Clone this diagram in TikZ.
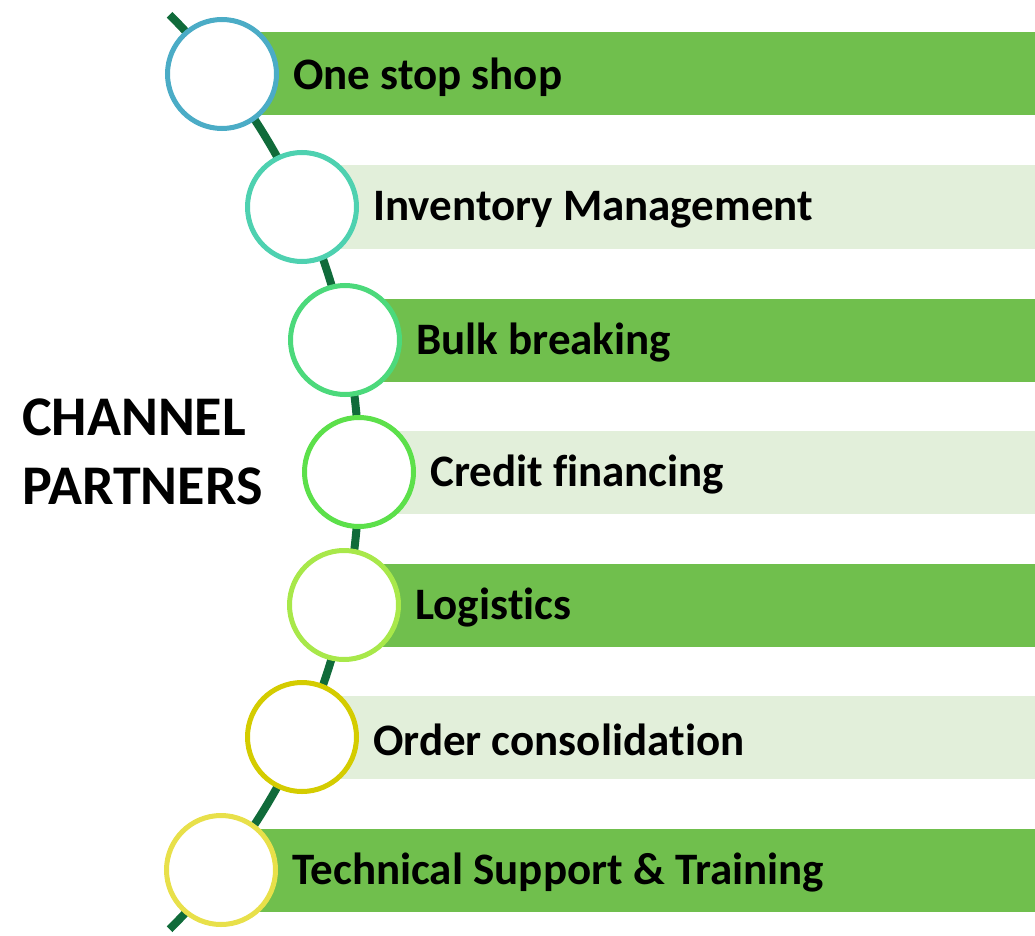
\documentclass[tikz,border=0pt]{standalone}
\usepackage{fontspec}
\setmainfont{Carlito}[RawFeature={-liga;-clig;-dlig}]
\definecolor{barDark}{RGB}{112,191,77}
\definecolor{barLight}{RGB}{226,239,218}
\definecolor{spine}{RGB}{16,107,58}
\definecolor{cA}{RGB}{75,172,198}
\definecolor{cB}{RGB}{78,209,176}
\definecolor{cC}{RGB}{76,217,123}
\definecolor{cD}{RGB}{92,224,74}
\definecolor{cE}{RGB}{168,232,74}
\definecolor{cF}{RGB}{212,204,0}
\definecolor{cG}{RGB}{232,224,74}
\tikzset{
  ring/.style={circle, draw=#1, line width=5pt, fill=white, inner sep=0pt, minimum size=109pt},
  barbox/.style={rectangle, fill=#1, draw=none, inner sep=0pt, minimum height=83pt, anchor=west},
  itemlabel/.style={anchor=west, inner sep=0pt, font=\fontsize{45}{54}\selectfont\bfseries},
  spineline/.style={draw=spine, line width=8pt},
  title/.style={anchor=west, inner sep=0pt, align=left, font=\fontsize{56}{69}\selectfont\bfseries}
}
\begin{document}
\begin{tikzpicture}[x=1pt,y=-1pt]
\useasboundingbox (0,0) rectangle (1035,936);
\coordinate (arcTop) at (169.6,14.8);
\draw[spineline] (arcTop) arc[start angle=-45, end angle=45, radius=646.6];
\foreach \i/\cx/\cy/\bc/\rc/\txt in {
  1/222/74/barDark/cA/{One stop shop},
  2/302/207/barLight/cB/{Inventory Management},
  3/345/340/barDark/cC/{Bulk breaking},
  4/359/472/barLight/cD/{Credit financing},
  5/344/605/barDark/cE/{Logis\kern0pt tics},
  6/302/737/barLight/cF/{Order consolida\kern0pt tion},
  7/221/870/barDark/cG/{Technical Support \& Training}}{
  \pgfmathsetmacro{\bw}{1035-\cx-38}
  \node[barbox=\bc, minimum width=\bw pt] (bar\i) at (\cx+38,\cy) {};
  \node[ring=\rc] (ring\i) at (\cx,\cy) {};
  \node[itemlabel] (label\i) at (\cx+71,\cy+3) {\txt};
}
\node[title] (title) at (22,452) {CHANNEL\\PARTNERS};
\end{tikzpicture}
\end{document}
